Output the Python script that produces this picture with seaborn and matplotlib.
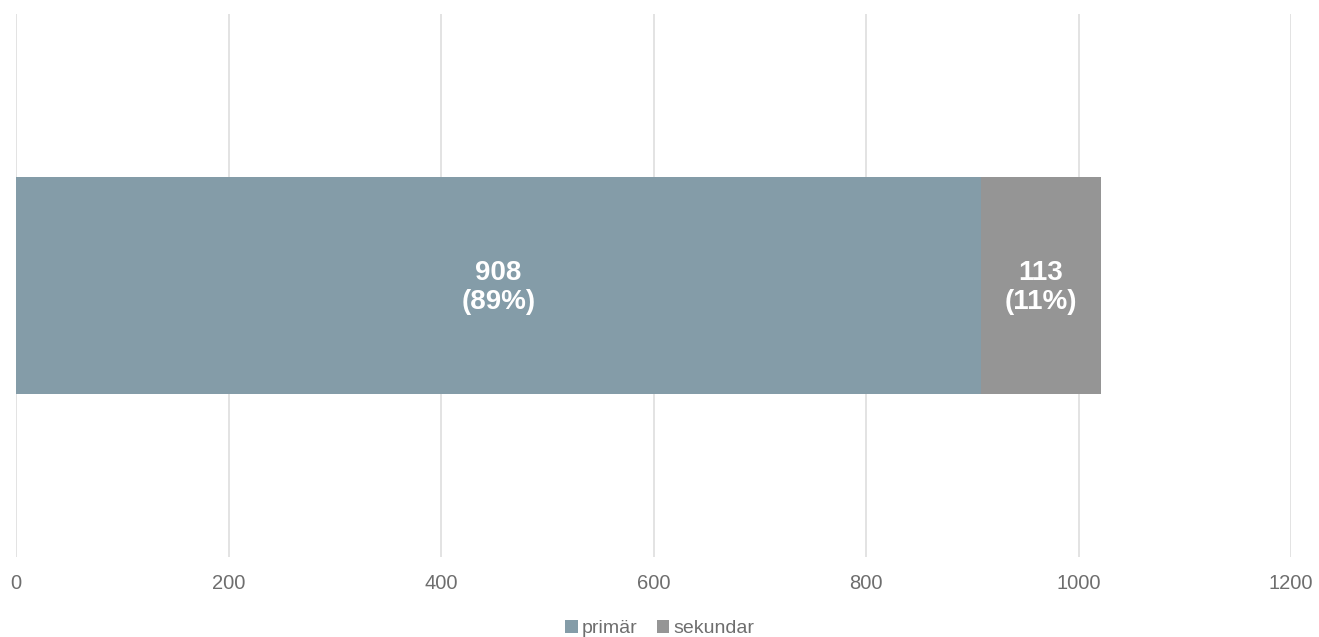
import matplotlib
matplotlib.use("Agg")
import matplotlib.pyplot as plt
import seaborn as sns
import pandas as pd
from matplotlib.patches import Patch

series = ["primär", "sekundar"]
values = [908, 113]
percents = ["89%", "11%"]
colors = ["#849ca8", "#959595"]
xticks = [0, 200, 400, 600, 800, 1000, 1200]

sns.set_theme(style="white")
plt.rcParams["font.family"] = ["Liberation Sans", "DejaVu Sans"]

fig = plt.figure(figsize=(13.19, 6.37), dpi=100)
ax = fig.add_axes([16/1319, 80/637, 1275/1319, 543/637])

cat = ["a"]
total = sum(values)
df_total = pd.DataFrame({"cat": cat, "val": [total]})
df_prim = pd.DataFrame({"cat": cat, "val": [values[0]]})
sns.barplot(data=df_total, x="val", y="cat", color=colors[1], width=0.4,
            saturation=1, ax=ax, zorder=3)
sns.barplot(data=df_prim, x="val", y="cat", color=colors[0], width=0.4,
            saturation=1, ax=ax, zorder=3)
for p in ax.patches:
    p.set_edgecolor("none")
    p.set_linewidth(0)

ax.set_xlim(0, 1200)
ax.set_ylim(0.5, -0.5)
ax.set_xticks(xticks)
ax.set_xticklabels([str(t) for t in xticks], color="#6e6e6e", fontsize=14.5)
ax.set_yticks([])
ax.set_xlabel("")
ax.set_ylabel("")
ax.tick_params(axis="x", length=0, pad=12)
ax.grid(axis="x", color="#e0e0e0", linewidth=1.3, zorder=0)
for s in ax.spines.values():
    s.set_visible(False)

left = 0
for v, pct in zip(values, percents):
    ax.text(left + v / 2, 2 / 543, f"{v}\n({pct})", ha="center", va="center",
            color="white", fontsize=20, fontweight="bold", linespacing=1.15, zorder=4)
    left += v

handles = [Patch(facecolor=c, edgecolor="none", label=s) for c, s in zip(colors, series)]
fig.legend(handles=handles, loc="lower center", bbox_to_anchor=(0.5, -0.028), ncol=2,
           frameon=False, fontsize=14, handlelength=0.65, handleheight=0.65,
           handletextpad=0.2, columnspacing=1.0, labelcolor="#6e6e6e")

fig.savefig("out.png", dpi=100)
